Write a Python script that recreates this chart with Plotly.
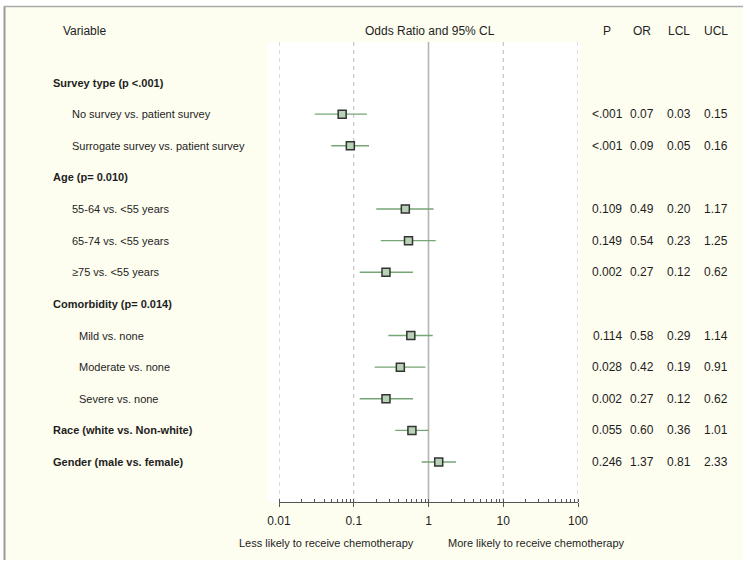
import plotly.graph_objects as go

# ---------------- data ----------------
row_labels = [
    "Survey type (p <.001)",
    "No survey vs. patient survey",
    "Surrogate survey vs. patient survey",
    "Age (p= 0.010)",
    "55-64 vs. <55 years",
    "65-74 vs. <55 years",
    "\u226575 vs. <55 years",
    "Comorbidity (p= 0.014)",
    "Mild vs. none",
    "Moderate vs. none",
    "Severe vs. none",
    "Race (white vs. Non-white)",
    "Gender (male vs. female)",
]
row_kind = ["group", "item", "item", "group", "item", "item", "item",
            "group", "sub", "sub", "sub", "group", "group"]
p_text = ["", "<.001", "<.001", "", "0.109", "0.149", "0.002", "",
          "0.114", "0.028", "0.002", "0.055", "0.246"]
odds = [None, 0.07, 0.09, None, 0.49, 0.54, 0.27, None, 0.58, 0.42, 0.27, 0.60, 1.37]
lcl = [None, 0.03, 0.05, None, 0.20, 0.23, 0.12, None, 0.29, 0.19, 0.12, 0.36, 0.81]
ucl = [None, 0.15, 0.16, None, 1.17, 1.25, 0.62, None, 1.14, 0.91, 0.62, 1.01, 2.33]
tick_vals = [0.01, 0.1, 1, 10, 100]
tick_text = ["0.01", "0.1", "1", "10", "100"]
col_headers = ["P", "OR", "LCL", "UCL"]
header_left = "Variable"
header_mid = "Odds Ratio and 95% CL"
foot_left = "Less likely to receive chemotherapy"
foot_right = "More likely to receive chemotherapy"

# ---------------- layout helpers ----------------
W, H = 750, 567
def px(x):
    return x / W
def py(y):
    return 1 - y / H

FONT = "Liberation Sans, Arial, Helvetica, sans-serif"
TXT = "#1e1e1e"
GREEN = "#76a674"
FILL = "#b7d2b4"
CREAM = "#fdfdf0"

# plot area in pixels
X0, X1 = 279, 578
Y_TOP, Y_BOT = 42, 502
ROW0_PX, ROWN_PX = 82.5, 462.0
n = len(row_labels)
per_px = (n - 1) / (ROWN_PX - ROW0_PX)
y_lo = 0 - (ROW0_PX - Y_TOP) * per_px
y_hi = (n - 1) + (Y_BOT - ROWN_PX) * per_px

rows = list(range(n))
idx = [i for i in rows if odds[i] is not None]
xs = [odds[i] for i in idx]
ys = [rows[i] for i in idx]
err_plus = [ucl[i] - odds[i] for i in idx]
err_minus = [odds[i] - lcl[i] for i in idx]

fig = go.Figure()

# vertical reference lines
for v in tick_vals:
    solid = (v == 1)
    fig.add_trace(go.Scatter(
        x=[v, v], y=[y_lo, y_hi], mode="lines",
        line=dict(color="#b4b4b4" if solid else "#b8b8b8",
                  width=1.6 if solid else 1,
                  dash="solid" if solid else "4px,4px"),
        hoverinfo="skip", showlegend=False, cliponaxis=False))

fig.add_trace(go.Scatter(
    x=xs, y=ys, mode="markers",
    marker=dict(symbol="square", size=8, color=FILL,
                line=dict(color="#333333", width=1.5)),
    error_x=dict(type="data", symmetric=False, array=err_plus,
                 arrayminus=err_minus, color=GREEN, thickness=1.4, width=0),
    showlegend=False, hoverinfo="skip"))

annotations = []
indent = {"group": 51, "item": 70, "sub": 77}
for i, lab in enumerate(row_labels):
    bold = row_kind[i] == "group"
    annotations.append(dict(
        x=px(indent[row_kind[i]]), xref="paper", y=rows[i], yref="y",
        text=f"<b>{lab}</b>" if bold else lab, showarrow=False,
        xanchor="left", yanchor="middle",
        font=dict(family=FONT, size=11, color=TXT)))

col_x = [607, 642, 679, 716]
for i in rows:
    if odds[i] is None:
        continue
    vals = [p_text[i], f"{odds[i]:.2f}", f"{lcl[i]:.2f}", f"{ucl[i]:.2f}"]
    for cx, s in zip(col_x, vals):
        annotations.append(dict(
            x=px(cx), xref="paper", y=rows[i], yref="y", text=s,
            showarrow=False, xanchor="center", yanchor="middle",
            font=dict(family=FONT, size=12, color=TXT)))

# headers
annotations.append(dict(x=px(84), xref="paper", y=py(31), yref="paper",
                        text=header_left, showarrow=False, xanchor="center",
                        yanchor="middle", font=dict(family=FONT, size=12, color=TXT)))
annotations.append(dict(x=px(430), xref="paper", y=py(31), yref="paper",
                        text=header_mid, showarrow=False, xanchor="center",
                        yanchor="middle", font=dict(family=FONT, size=12, color=TXT)))
for cx, h in zip(col_x, col_headers):
    annotations.append(dict(x=px(cx), xref="paper", y=py(31), yref="paper",
                            text=h, showarrow=False, xanchor="center",
                            yanchor="middle", font=dict(family=FONT, size=12, color=TXT)))

# footer labels
annotations.append(dict(x=px(326), xref="paper", y=py(543), yref="paper",
                        text=foot_left, showarrow=False, xanchor="center",
                        yanchor="middle", font=dict(family=FONT, size=11, color=TXT)))
annotations.append(dict(x=px(536), xref="paper", y=py(543), yref="paper",
                        text=foot_right, showarrow=False, xanchor="center",
                        yanchor="middle", font=dict(family=FONT, size=11, color=TXT)))

shapes = [
    dict(type="rect", xref="paper", yref="paper", x0=px(5), x1=px(743),
         y0=py(560), y1=py(7), fillcolor=CREAM, line=dict(width=0), layer="below"),
    dict(type="rect", xref="paper", yref="paper", x0=px(268), x1=px(580),
         y0=py(Y_BOT), y1=py(Y_TOP), fillcolor="white", line=dict(width=0), layer="below"),
    dict(type="line", xref="paper", yref="paper", x0=px(4.5), x1=px(4.5),
         y0=py(560), y1=py(6), line=dict(color="#9a9a9a", width=2)),
    dict(type="line", xref="paper", yref="paper", x0=px(4), x1=px(743),
         y0=py(6.5), y1=py(6.5), line=dict(color="#ababab", width=1.5)),
]

fig.update_layout(
    width=W, height=H,
    margin=dict(l=0, r=0, t=0, b=0, pad=0, autoexpand=False),
    paper_bgcolor="white", plot_bgcolor="white",
    showlegend=False,
    annotations=annotations, shapes=shapes,
    xaxis=dict(
        type="log", range=[-2, 2], domain=[px(X0), px(X1)],
        tickvals=tick_vals, ticktext=tick_text,
        showgrid=False, zeroline=False, automargin=False,
        showline=True, linecolor="#555555", linewidth=1,
        ticks="outside", ticklen=4, tickcolor="#555555", tickwidth=1,
        minor=dict(ticks="inside", ticklen=3, tickcolor="#555555",
                   tickwidth=1, showgrid=False, dtick="D1"),
        tickfont=dict(family=FONT, size=12, color=TXT),
        ticklabelstandoff=4,
        fixedrange=True,
    ),
    yaxis=dict(
        range=[y_hi, y_lo], domain=[py(Y_BOT), py(Y_TOP)],
        showgrid=False, zeroline=False, showline=False, automargin=False,
        showticklabels=False, ticks="", fixedrange=True,
    ),
)

fig.write_html("out.html", config={"displayModeBar": False, "staticPlot": True},
               post_script="document.body.style.margin='0';document.body.style.overflow='hidden';")
